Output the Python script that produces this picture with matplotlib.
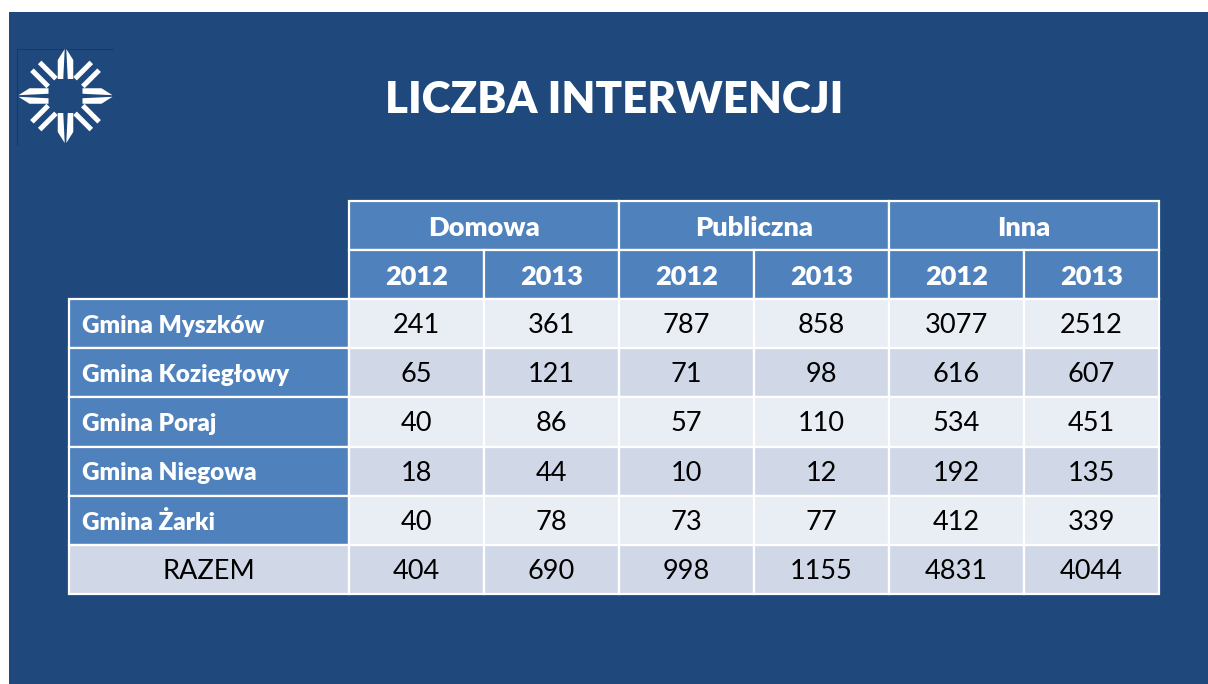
import numpy as np
import matplotlib
matplotlib.use("Agg")
import matplotlib.pyplot as plt
from matplotlib.patches import Rectangle, Polygon

# ---- data ----
title = "LICZBA INTERWENCJI"
groups = ["Domowa", "Publiczna", "Inna"]
years = ["2012", "2013"]
row_labels = ["Gmina Myszków", "Gmina Koziegłowy", "Gmina Poraj", "Gmina Niegowa", "Gmina Żarki"]
total_label = "RAZEM"
domowa_2012 = [241, 65, 40, 18, 40]
domowa_2013 = [361, 121, 86, 44, 78]
publiczna_2012 = [787, 71, 57, 10, 73]
publiczna_2013 = [858, 98, 110, 12, 77]
inna_2012 = [3077, 616, 534, 192, 412]
inna_2013 = [2512, 607, 451, 135, 339]
totals = [404, 690, 998, 1155, 4831, 4044]

# ---- style ----
BG = "#1F497D"
HEAD = "#4F81BD"
LIGHT = "#E9EDF4"
DARK = "#D0D8E8"
FONT = "Lato"
WB = "heavy"

W, H = 1208, 684
fig = plt.figure(figsize=(W / 100, H / 100), dpi=100)
fig.patch.set_facecolor("white")
ax = fig.add_axes([0, 0, 1, 1])
ax.set_xlim(0, W)
ax.set_ylim(H, 0)
ax.axis("off")

# slide background
ax.add_patch(Rectangle((9, 12), W - 9, H - 12, facecolor=BG, edgecolor="none", zorder=0))

# title
ax.text(614, 100, title, ha="center", va="center", color="white",
        fontsize=31.5, fontweight=WB, family=FONT)

# logo
cx, cy = 65.5, 96.0
ax.plot([17, 17], [49, 145], color="#173a66", lw=0.8, zorder=1)
ax.plot([17, 113], [49, 49], color="#173a66", lw=0.8, zorder=1)

def ray(angle, r0, r1, off, thick, tip):
    c, s = np.cos(angle), np.sin(angle)
    def tr(pts):
        return [(cx + r * c - o * s, cy + r * s + o * c) for r, o in pts]
    polys = []
    for sgn in (-1, 1):
        o = sgn * off
        inner = o - sgn * thick / 2
        outer = o + sgn * thick / 2
        if tip:
            pts = [(r0, inner), (r1 + tip, sgn * 0.8), (r1, outer), (r0, outer)]
        else:
            pts = [(r0, inner), (r1, inner), (r1, outer), (r0, outer)]
        polys.append(tr(pts))
    return polys

for k in range(4):
    for p in ray(k * np.pi / 2, 17, 36, 5.0, 5.5, 11):
        ax.add_patch(Polygon(p, closed=True, facecolor="white", edgecolor="none", zorder=2))
    for p in ray(k * np.pi / 2 + np.pi / 4, 19, 42, 5.5, 5.0, 0):
        ax.add_patch(Polygon(p, closed=True, facecolor="white", edgecolor="none", zorder=2))

# table layout
label_x0, label_w = 69, 280
col_w = 135
top = 201
row_h = 49.1
ncol = 6
lw = 1.6
fs_head = 19.5
fs_num = 19.5
fs_lab = 17.5
dy = 2.0

col_x = [label_x0 + label_w + i * col_w for i in range(ncol)]

def cell(x, y, w, h, fc):
    ax.add_patch(Rectangle((x, y), w, h, facecolor=fc, edgecolor="white", lw=lw, zorder=3))

# header row 1
for g, name in enumerate(groups):
    x = col_x[2 * g]
    cell(x, top, 2 * col_w, row_h, HEAD)
    ax.text(x + col_w, top + row_h / 2 + dy, name, ha="center", va="center", color="white",
            fontsize=fs_head, fontweight=WB, family=FONT, zorder=4)
# header row 2
for i in range(ncol):
    cell(col_x[i], top + row_h, col_w, row_h, HEAD)
    ax.text(col_x[i] + col_w / 2, top + 1.5 * row_h + dy, years[i % 2], ha="center", va="center",
            color="white", fontsize=fs_head, fontweight=WB, family=FONT, zorder=4)

cols = [domowa_2012, domowa_2013, publiczna_2012, publiczna_2013, inna_2012, inna_2013]
for r, lab in enumerate(row_labels):
    y = top + (2 + r) * row_h
    fc = LIGHT if r % 2 == 0 else DARK
    cell(label_x0, y, label_w, row_h, HEAD)
    ax.text(label_x0 + 13, y + row_h / 2 + dy, lab, ha="left", va="center", color="white",
            fontsize=fs_lab, fontweight=WB, family=FONT, zorder=4)
    for i in range(ncol):
        cell(col_x[i], y, col_w, row_h, fc)
        ax.text(col_x[i] + col_w / 2, y + row_h / 2 + dy, str(cols[i][r]), ha="center", va="center",
                color="black", fontsize=fs_num, family=FONT, zorder=4)

# total row
y = top + (2 + len(row_labels)) * row_h
fc = LIGHT if len(row_labels) % 2 == 0 else DARK
cell(label_x0, y, label_w, row_h, fc)
ax.text(label_x0 + label_w / 2, y + row_h / 2 + dy, total_label, ha="center", va="center",
        color="black", fontsize=fs_num, family=FONT, zorder=4)
for i in range(ncol):
    cell(col_x[i], y, col_w, row_h, fc)
    ax.text(col_x[i] + col_w / 2, y + row_h / 2 + dy, str(totals[i]), ha="center", va="center",
            color="black", fontsize=fs_num, family=FONT, zorder=4)

fig.savefig("out.png", dpi=100, facecolor=fig.get_facecolor())
